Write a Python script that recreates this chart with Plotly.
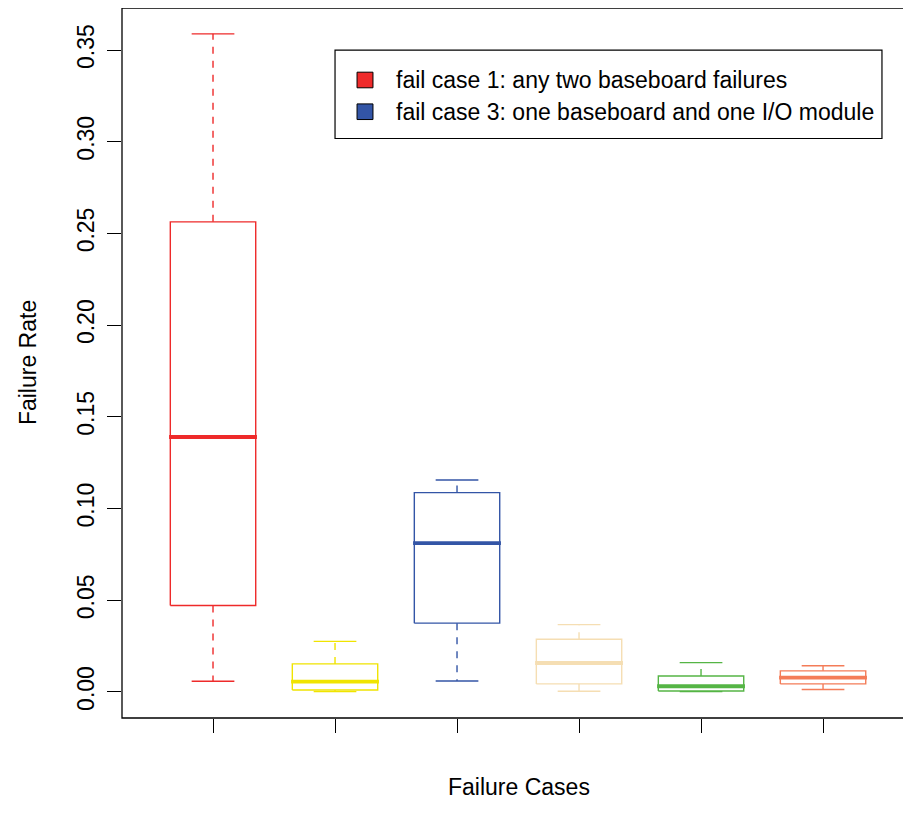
import plotly.graph_objects as go

# ---- data ----
cases = ["fail case 1", "fail case 2", "fail case 3", "fail case 4", "fail case 5", "fail case 6"]
positions = [1, 2, 3, 4, 5, 6]
lower_whisker = [0.0058, 0.0002, 0.0060, 0.0004, 0.0002, 0.0013]
q1_values = [0.0471, 0.0011, 0.0375, 0.0044, 0.0005, 0.0044]
median_values = [0.1390, 0.0056, 0.0811, 0.0158, 0.0031, 0.0078]
q3_values = [0.2563, 0.0153, 0.1087, 0.0287, 0.0087, 0.0115]
upper_whisker = [0.3588, 0.0276, 0.1156, 0.0367, 0.0160, 0.0143]
box_colors = ["#EE2A2A", "#F0E400", "#3355A6", "#F5DEB3", "#55B545", "#F47C58"]

legend_labels = ["fail case 1: any two baseboard failures",
                 "fail case 3: one baseboard and one I/O module"]
legend_colors = ["#EE2A2A", "#3355A6"]

y_ticks = [0.00, 0.05, 0.10, 0.15, 0.20, 0.25, 0.30, 0.35]

FONT = "Liberation Sans, Arial, Helvetica, sans-serif"
FS = 23
half_box = 0.35
half_cap = 0.175

fig = go.Figure()

for p, lo, q1, med, q3, hi, col, name in zip(positions, lower_whisker, q1_values, median_values,
                                              q3_values, upper_whisker, box_colors, cases):
    # whiskers (dashed)
    fig.add_trace(go.Scatter(x=[p, p, None, p, p], y=[q3, hi, None, q1, lo], mode="lines",
                             line=dict(color=col, width=1.4, dash="7px,7px"),
                             showlegend=False, hoverinfo="skip"))
    # staples
    fig.add_trace(go.Scatter(x=[p - half_cap, p + half_cap, None, p - half_cap, p + half_cap],
                             y=[hi, hi, None, lo, lo], mode="lines",
                             line=dict(color=col, width=1.4),
                             showlegend=False, hoverinfo="skip"))
    # box
    fig.add_trace(go.Scatter(x=[p - half_box, p + half_box, p + half_box, p - half_box, p - half_box],
                             y=[q1, q1, q3, q3, q1], mode="lines",
                             line=dict(color=col, width=1.4),
                             showlegend=False, name=name))
    # median
    fig.add_trace(go.Scatter(x=[p - half_box - 0.01, p + half_box + 0.01], y=[med, med], mode="lines",
                             line=dict(color=col, width=3.8),
                             showlegend=False, hoverinfo="skip"))

# ---- legend (R-style box legend, drawn in paper coordinates) ----
leg_x0, leg_x1, leg_y0, leg_y1 = 0.2700, 0.9632, 0.8162, 0.9408
sq_x0, sq_x1, sq_half = 0.2979, 0.3181, 0.0110
row_y = [0.8986, 0.8539]
text_x = 0.3447

shapes = [dict(type="rect", xref="paper", yref="paper", x0=0, x1=1.01, y0=0, y1=1,
               line=dict(color="black", width=1.3), fillcolor="rgba(0,0,0,0)", layer="above"),
          dict(type="rect", xref="paper", yref="paper", x0=leg_x0, x1=leg_x1, y0=leg_y0, y1=leg_y1,
               line=dict(color="black", width=1.2), fillcolor="white", layer="above")]
annotations = [
    dict(text="Failure Cases", xref="paper", yref="paper", x=0.503, y=-0.097,
         showarrow=False, xanchor="center", yanchor="middle",
         font=dict(family=FONT, size=FS, color="black")),
    dict(text="Failure Rate", xref="paper", yref="paper", x=-0.119, y=0.5, textangle=-90,
         showarrow=False, xanchor="center", yanchor="middle",
         font=dict(family=FONT, size=FS, color="black")),
]
for lab, col, ry in zip(legend_labels, legend_colors, row_y):
    shapes.append(dict(type="rect", xref="paper", yref="paper", x0=sq_x0, x1=sq_x1,
                       y0=ry - sq_half, y1=ry + sq_half,
                       line=dict(color="black", width=1), fillcolor=col, layer="above"))
    annotations.append(dict(text=lab, xref="paper", yref="paper", x=text_x, y=ry,
                            showarrow=False, xanchor="left", yanchor="middle",
                            font=dict(family=FONT, size=FS, color="black")))

# page has an 8px body margin: figure is sized/offset to compensate
fig.update_layout(
    width=903, height=817,
    margin=dict(l=114, r=0, t=0, b=107),
    plot_bgcolor="white", paper_bgcolor="white",
    font=dict(family=FONT, size=FS, color="black"),
    showlegend=False,
    xaxis=dict(range=[0.254, 6.721], tickmode="array", tickvals=positions, ticktext=["" for _ in positions],
               ticks="outside", ticklen=14, tickcolor="black", tickwidth=1,
               showline=False, showgrid=False, zeroline=False, fixedrange=True),
    yaxis=dict(range=[-0.0142, 0.3729], tickmode="array", tickvals=y_ticks,
               ticktext=[f"{v:.2f}" for v in y_ticks], tickangle=-90,
               ticks="outside", ticklen=14, tickcolor="black", tickwidth=1,
               tickfont=dict(family=FONT, size=FS, color="black"),
               ticklabelstandoff=4,
               showline=False, showgrid=False, zeroline=False, fixedrange=True),
    shapes=shapes,
    annotations=annotations,
)

fig.write_html("out.html")
